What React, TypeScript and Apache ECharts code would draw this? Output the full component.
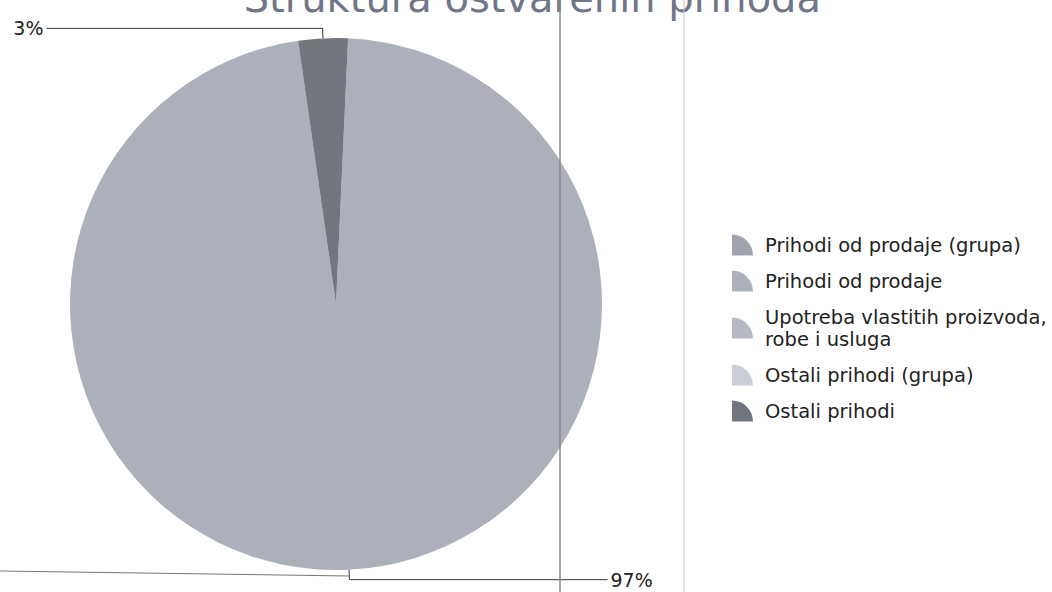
import React, { useEffect, useRef } from "react";
import * as echarts from "echarts";

const titleText = "Struktura ostvarenih prihoda";
const categories = [
  "Prihodi od prodaje (grupa)",
  "Prihodi od prodaje",
  "Upotreba vlastitih proizvoda,\nrobe i usluga",
  "Ostali prihodi (grupa)",
  "Ostali prihodi",
];
const values = [0, 97, 0, 0, 3];
const colors = ["#9ea3ad", "#abb0bb", "#b5b9c3", "#c9cdd5", "#72777f"];
const leaderLengths = [250, 258, 250, 250, 276];

export default function App() {
  const ref = useRef<HTMLDivElement>(null);
  useEffect(() => {
    document.body.style.margin = "0";
    const chart = echarts.init(ref.current!, null, { renderer: "svg" });
    const data = categories.map((name, i) => {
      const item: any = {
        name,
        value: values[i],
        itemStyle: { color: colors[i] },
        labelLine: { length2: leaderLengths[i] },
      };
      if (values[i] === 0) {
        item.label = { show: false };
        item.labelLine = { show: false };
      }
      return item;
    });
    chart.setOption({
      animation: false,
      backgroundColor: "#ffffff",
      title: {
        text: titleText,
        right: 226,
        top: -27,
        textStyle: {
          fontFamily: "DejaVu Sans",
          fontSize: 40,
          fontWeight: "normal",
          color: "#6f7687",
        },
      },
      legend: {
        orient: "vertical",
        left: 727,
        top: 229,
        itemWidth: 35,
        itemHeight: 21,
        itemGap: 14,
        icon: "path://M0,20 L0,0 A20,20 0 0 1 20,20 Z",
        data: categories,
        textStyle: {
          fontFamily: "DejaVu Sans",
          fontSize: 19.5,
          lineHeight: 22,
          color: "#222222",
        },
      },
      graphic: [
        { type: "line", shape: { x1: 560, y1: 0, x2: 560, y2: 592 }, style: { stroke: "#8a8a8a", lineWidth: 1.5 }, z: 100 },
        { type: "line", shape: { x1: 684, y1: 0, x2: 684, y2: 592 }, style: { stroke: "#c4c4c4", lineWidth: 1 }, z: 100 },
        { type: "line", shape: { x1: 0, y1: 571, x2: 350, y2: 576 }, style: { stroke: "#777777", lineWidth: 1 }, z: 100 },
      ],
      series: [
        {
          type: "pie",
          center: [336, 304],
          radius: 266,
          startAngle: 87.4,
          clockwise: true,
          avoidLabelOverlap: false,
          stillShowZeroSum: true,
          data,
          label: {
            show: true,
            position: "outside",
            formatter: "{d}%",
            fontFamily: "DejaVu Sans",
            fontSize: 19,
            color: "#222222",
            distanceToLabelLine: 3,
          },
          labelLine: {
            show: true,
            length: 10,
            lineStyle: { color: "#333333", width: 1 },
          },
          itemStyle: { borderWidth: 0 },
          emphasis: { disabled: true },
        },
      ],
    });
    return () => chart.dispose();
  }, []);
  return <div ref={ref} style={{ width: 1052, height: 592 }} />;
}
